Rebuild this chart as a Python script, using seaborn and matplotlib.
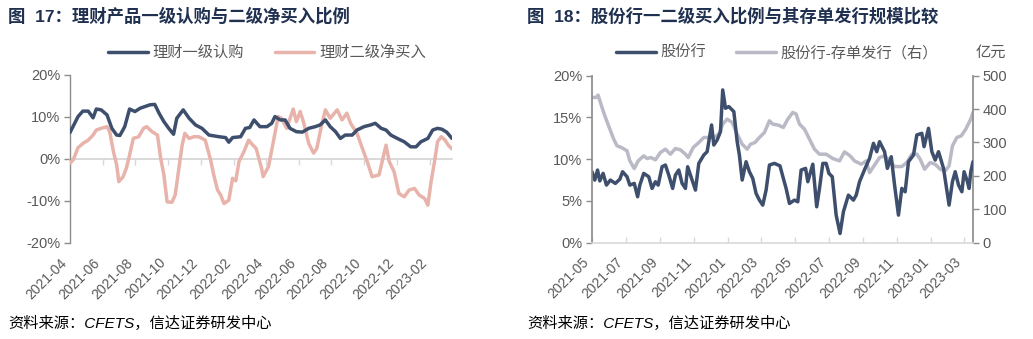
import matplotlib
matplotlib.use("Agg")
import matplotlib.pyplot as plt
import matplotlib.dates as mdates
from matplotlib.ticker import FuncFormatter, FixedLocator, NullFormatter
from matplotlib.lines import Line2D
import pandas as pd
import seaborn as sns

# ---------------- data: wealth products, primary subscription vs secondary net buying (%)
wm_primary_dates = [
    "2021-04-01", "2021-04-16", "2021-04-25", "2021-05-05", "2021-05-14", "2021-05-20", "2021-05-29",
    "2021-06-09", "2021-06-18", "2021-06-27", "2021-07-03", "2021-07-12", "2021-07-21", "2021-07-31",
    "2021-08-10", "2021-08-19", "2021-08-28", "2021-09-06", "2021-09-14", "2021-09-23", "2021-10-02",
    "2021-10-11", "2021-10-17", "2021-10-29", "2021-11-09", "2021-11-21", "2021-12-03", "2021-12-16",
    "2022-01-04", "2022-01-16", "2022-01-22", "2022-01-29", "2022-02-13", "2022-02-22", "2022-03-02",
    "2022-03-10", "2022-03-21", "2022-04-03", "2022-04-12", "2022-04-18", "2022-04-28", "2022-05-07",
    "2022-05-16", "2022-05-28", "2022-06-08", "2022-06-20", "2022-07-02", "2022-07-11", "2022-07-21",
    "2022-07-30", "2022-08-09", "2022-08-18", "2022-08-27", "2022-09-09", "2022-09-18", "2022-10-01",
    "2022-10-13", "2022-10-22", "2022-11-02", "2022-11-11", "2022-11-20", "2022-12-02", "2022-12-15",
    "2022-12-27", "2023-01-06", "2023-01-15", "2023-01-28", "2023-02-06", "2023-02-15", "2023-02-23",
    "2023-03-04", "2023-03-14",
]
wm_primary = [
    6.3, 10.1, 11.4, 11.4, 9.8, 11.9, 11.7,
    10.5, 7.3, 5.7, 5.6, 7.7, 11.9, 11.3,
    12.1, 12.5, 12.9, 13.0, 10.9, 8.9, 7.3,
    5.9, 9.7, 11.7, 9.7, 8.1, 7.3, 5.7,
    5.3, 5.1, 4.0, 5.1, 5.3, 7.3, 7.5,
    9.3, 7.7, 7.7, 8.5, 10.1, 9.3, 9.3,
    7.3, 6.5, 6.4, 7.3, 7.7, 8.1, 9.3,
    7.7, 6.5, 4.9, 5.7, 5.7, 6.9, 7.7,
    8.1, 8.5, 7.3, 6.9, 5.7, 4.9, 4.1,
    2.9, 2.9, 4.1, 4.9, 6.9, 7.3, 7.1,
    6.4, 4.9,
]

wm_secondary_dates = [
    "2021-04-01", "2021-04-07", "2021-04-16", "2021-04-25", "2021-05-05", "2021-05-14", "2021-05-20",
    "2021-05-29", "2021-06-09", "2021-06-14", "2021-06-21", "2021-06-27", "2021-07-01", "2021-07-09",
    "2021-07-15", "2021-07-21", "2021-07-28", "2021-08-07", "2021-08-16", "2021-08-22", "2021-09-01",
    "2021-09-11", "2021-09-17", "2021-09-23", "2021-09-29", "2021-10-08", "2021-10-14", "2021-10-21",
    "2021-10-27", "2021-11-01", "2021-11-09", "2021-11-18", "2021-11-27", "2021-12-09", "2021-12-19",
    "2021-12-25", "2022-01-01", "2022-01-07", "2022-01-13", "2022-01-22", "2022-01-29", "2022-02-04",
    "2022-02-10", "2022-02-19", "2022-02-28", "2022-03-05", "2022-03-14", "2022-03-24", "2022-03-27",
    "2022-04-06", "2022-04-15", "2022-04-24", "2022-04-30", "2022-05-10", "2022-05-22", "2022-05-28",
    "2022-06-04", "2022-06-10", "2022-06-20", "2022-06-29", "2022-07-05", "2022-07-14", "2022-07-21",
    "2022-07-30", "2022-08-12", "2022-08-21", "2022-08-30", "2022-09-06", "2022-09-18", "2022-09-28",
    "2022-10-07", "2022-10-16", "2022-10-29", "2022-11-11", "2022-11-17", "2022-11-26", "2022-12-05",
    "2022-12-15", "2022-12-24", "2023-01-03", "2023-01-12", "2023-01-22", "2023-01-28", "2023-02-03",
    "2023-02-10", "2023-02-15", "2023-02-22", "2023-03-01", "2023-03-07", "2023-03-14",
]
wm_secondary = [
    -1.0, -0.2, 2.7, 3.7, 4.5, 5.7, 6.9,
    7.3, 7.7, 6.5, 1.7, -1.4, -5.4, -4.2,
    -2.2, 0.9, 4.9, 5.3, 7.3, 7.7, 6.5,
    5.7, 0.2, -3.8, -10.2, -10.3, -8.6, -2.2,
    3.3, 6.1, 4.9, 5.3, 5.3, 4.5, -0.2,
    -3.8, -7.4, -8.6, -10.6, -9.8, -4.6, -5.2,
    -0.6, 1.7, 4.5, 3.7, 2.5, -2.2, -4.2,
    -1.8, 4.1, 10.1, 9.7, 7.3, 11.9, 8.9,
    11.3, 8.9, 3.7, 1.4, 2.5, 8.1, 11.7,
    9.7, 11.7, 9.3, 10.9, 8.5, 6.1, 2.5,
    -0.6, -4.2, -3.8, 3.3, -0.6, -3.0, -8.2,
    -9.0, -7.4, -7.0, -8.6, -9.4, -11.0, -5.4,
    -0.2, 4.1, 5.3, 4.5, 3.3, 2.4,
]

# ---------------- data: joint-stock banks, primary/secondary buying ratio (%) and NCD issuance (100m yuan)
jsb_ratio_dates = [
    "2021-05-01", "2021-05-06", "2021-05-11", "2021-05-15", "2021-05-21", "2021-05-27", "2021-06-03",
    "2021-06-12", "2021-06-20", "2021-06-25", "2021-07-03", "2021-07-08", "2021-07-16", "2021-07-22",
    "2021-07-26", "2021-08-02", "2021-08-11", "2021-08-17", "2021-08-23", "2021-08-28", "2021-09-04",
    "2021-09-10", "2021-09-16", "2021-09-23", "2021-09-28", "2021-10-04", "2021-10-10", "2021-10-16",
    "2021-10-20", "2021-10-26", "2021-11-03", "2021-11-09", "2021-11-18", "2021-11-24", "2021-12-02",
    "2021-12-06", "2021-12-12", "2021-12-18", "2021-12-22", "2021-12-27", "2022-01-02", "2022-01-11",
    "2022-01-17", "2022-01-21", "2022-01-26", "2022-02-02", "2022-02-08", "2022-02-14", "2022-02-20",
    "2022-02-26", "2022-03-04", "2022-03-10", "2022-03-16", "2022-03-25", "2022-04-04", "2022-04-10",
    "2022-04-15", "2022-04-21", "2022-04-30", "2022-05-06", "2022-05-12", "2022-05-20", "2022-05-24",
    "2022-06-02", "2022-06-09", "2022-06-14", "2022-06-20", "2022-06-26", "2022-07-01", "2022-07-07",
    "2022-07-14", "2022-07-21", "2022-07-27", "2022-08-05", "2022-08-14", "2022-08-19", "2022-08-25",
    "2022-09-04", "2022-09-12", "2022-09-19", "2022-09-25", "2022-09-30", "2022-10-09", "2022-10-14",
    "2022-10-21", "2022-10-27", "2022-11-03", "2022-11-09", "2022-11-15", "2022-11-21", "2022-11-30",
    "2022-12-06", "2022-12-15", "2022-12-19", "2022-12-27", "2023-01-02", "2023-01-08", "2023-01-14",
    "2023-01-23", "2023-02-02", "2023-02-08", "2023-02-13", "2023-02-19", "2023-02-25", "2023-03-01",
    "2023-03-07", "2023-03-10", "2023-03-13", "2023-03-17",
]
jsb_ratio = [
    8.5, 7.5, 8.7, 7.4, 8.3, 6.9, 7.5,
    7.1, 7.6, 8.5, 7.9, 6.9, 7.1, 5.5,
    6.9, 8.3, 7.9, 6.5, 7.3, 6.9, 9.1,
    9.3, 8.1, 6.5, 8.1, 8.7, 7.1, 6.5,
    9.1, 7.9, 6.3, 9.5, 10.5, 10.9, 14.1,
    11.7, 12.3, 13.3, 18.3, 16.1, 16.3, 15.7,
    12.1, 10.5, 7.5, 9.7, 8.5, 7.7, 5.9,
    5.1, 4.5, 6.3, 9.3, 9.5, 9.2, 7.7,
    6.5, 4.7, 5.1, 4.9, 8.7, 8.9, 7.3,
    9.4, 4.3, 6.5, 9.5, 9.5, 8.3, 7.9,
    3.3, 1.1, 3.7, 5.7, 5.1, 5.7, 7.3,
    8.9, 10.1, 11.9, 10.9, 12.1, 10.9, 8.9,
    10.3, 6.9, 3.3, 6.5, 6.1, 9.7, 10.5,
    12.9, 13.1, 11.5, 13.7, 10.9, 9.9, 10.9,
    8.9, 4.5, 7.3, 8.5, 6.9, 6.1, 8.5,
    7.3, 6.5, 8.5, 9.7,
]

jsb_ncd_dates = [
    "2021-05-01", "2021-05-09", "2021-05-12", "2021-05-18", "2021-05-24", "2021-06-01", "2021-06-09",
    "2021-06-15", "2021-06-23", "2021-07-03", "2021-07-08", "2021-07-16", "2021-07-23", "2021-08-02",
    "2021-08-08", "2021-08-15", "2021-08-23", "2021-09-01", "2021-09-10", "2021-09-19", "2021-09-28",
    "2021-10-07", "2021-10-16", "2021-10-21", "2021-10-30", "2021-11-09", "2021-11-18", "2021-11-27",
    "2021-12-06", "2021-12-15", "2021-12-22", "2021-12-30", "2022-01-08", "2022-01-17", "2022-01-26",
    "2022-02-04", "2022-02-10", "2022-02-18", "2022-02-26", "2022-03-07", "2022-03-16", "2022-03-22",
    "2022-04-01", "2022-04-10", "2022-04-18", "2022-04-27", "2022-05-03", "2022-05-09", "2022-05-18",
    "2022-05-27", "2022-06-05", "2022-06-14", "2022-06-26", "2022-07-08", "2022-07-20", "2022-07-29",
    "2022-08-08", "2022-08-16", "2022-08-28", "2022-09-06", "2022-09-12", "2022-09-22", "2022-09-30",
    "2022-10-09", "2022-10-19", "2022-10-27", "2022-11-09", "2022-11-18", "2022-11-27", "2022-12-06",
    "2022-12-12", "2022-12-20", "2022-12-30", "2023-01-08", "2023-01-17", "2023-01-26", "2023-02-02",
    "2023-02-08", "2023-02-16", "2023-02-24", "2023-03-04", "2023-03-13", "2023-03-17",
]
jsb_ncd = [
    435, 435, 442, 410, 380, 345, 310,
    290, 285, 275, 245, 222, 245, 260,
    252, 255, 248, 270, 280, 265, 282,
    278, 265, 255, 285, 300, 315, 315,
    315, 325, 355, 370, 360, 325, 295,
    280, 295, 300, 315, 330, 365, 355,
    352, 345, 370, 390, 385, 355, 340,
    310, 280, 265, 265, 252, 245, 272,
    260, 245, 235, 245, 210, 235, 255,
    260, 245, 228, 228, 240, 265, 265,
    250, 220, 240, 235, 220, 215, 230,
    290, 315, 320, 340, 370, 390,
]

left_ticks = ["2021-04", "2021-06", "2021-08", "2021-10", "2021-12", "2022-02",
              "2022-04", "2022-06", "2022-08", "2022-10", "2022-12", "2023-02"]
right_ticks = ["2021-05", "2021-07", "2021-09", "2021-11", "2022-01", "2022-03",
               "2022-05", "2022-07", "2022-09", "2022-11", "2023-01", "2023-03"]

# ---------------- style
NAVY = "#3E4F6D"
PINK = "#E8B3AB"
GREY_LINE = "#B9BAC6"
TEXT = "#595959"
SPINE = "#8C8C8C"
ZERO = "#D9D9D9"
TITLE = "#1F3050"
LW = 2.5

sns.set_theme(style="white")
plt.rcParams["font.family"] = ["Liberation Sans", "Noto Sans CJK SC"]
plt.rcParams["axes.unicode_minus"] = False

fig = plt.figure(figsize=(10.33, 3.39), dpi=100)

pct_fmt = FuncFormatter(lambda v, _: f"{v:.0f}%")


def month_locator(tick_labels):
    return FixedLocator([mdates.date2num(pd.Timestamp(t + "-01")) for t in tick_labels])


# ================= left panel
axL = fig.add_axes([70 / 1033, 1 - 243 / 339, 382 / 1033, 168 / 339])
df1 = pd.DataFrame({"date": pd.to_datetime(wm_primary_dates), "v": wm_primary})
df2 = pd.DataFrame({"date": pd.to_datetime(wm_secondary_dates), "v": wm_secondary})

# zero line with small in-facing date ticks (drawn first so the series sit on top)
axL.axhline(0, color=ZERO, linewidth=1.2, zorder=1)
sns.lineplot(data=df2, x="date", y="v", ax=axL, color=PINK, linewidth=LW, zorder=3)
sns.lineplot(data=df1, x="date", y="v", ax=axL, color=NAVY, linewidth=LW, zorder=4)
axL.set_xlim(pd.Timestamp("2021-04-01"), df2["date"].max())
axL.set_ylim(-20, 20)
axL.set_yticks([-20, -10, 0, 10, 20])
axL.yaxis.set_major_formatter(pct_fmt)
axL.set_xlabel("")
axL.set_ylabel("")
for s in ["top", "right", "bottom"]:
    axL.spines[s].set_visible(False)
axL.spines["left"].set_color(SPINE)
axL.spines["left"].set_linewidth(1.0)
axL.xaxis.set_major_locator(month_locator(left_ticks))
axL.xaxis.set_major_formatter(mdates.DateFormatter("%Y-%m"))
axL.tick_params(axis="y", direction="out", length=4, width=1, color=SPINE,
                labelsize=10.5, labelcolor=TEXT, pad=3, left=True)
axL.tick_params(axis="x", length=0, labelsize=10, labelcolor=TEXT, pad=9)
for lab in axL.get_xticklabels():
    lab.set_rotation(45)
    lab.set_ha("right")

zero_ax = axL.secondary_xaxis(0.5)
for sp in zero_ax.spines.values():
    sp.set_color(ZERO)
    sp.set_linewidth(1.2)
zero_ax.xaxis.set_major_locator(month_locator(left_ticks))
zero_ax.xaxis.set_major_formatter(NullFormatter())
zero_ax.tick_params(axis="x", which="both", direction="in", length=4, width=1, color=ZERO,
                    labelbottom=False, labeltop=False)
zero_ax.set_zorder(1)

# ================= right panel
axR = fig.add_axes([592 / 1033, 1 - 242.7 / 339, 381 / 1033, 167 / 339])
axR2 = axR.twinx()
df3 = pd.DataFrame({"date": pd.to_datetime(jsb_ratio_dates), "v": jsb_ratio})
df4 = pd.DataFrame({"date": pd.to_datetime(jsb_ncd_dates), "v": jsb_ncd})
sns.lineplot(data=df4, x="date", y="v", ax=axR2, color=GREY_LINE, linewidth=LW)
sns.lineplot(data=df3, x="date", y="v", ax=axR, color=NAVY, linewidth=LW)
axR.set_zorder(axR2.get_zorder() + 1)
axR.patch.set_visible(False)
xmax = max(df3["date"].max(), df4["date"].max())
axR.set_xlim(pd.Timestamp("2021-05-01"), xmax)
axR.set_ylim(0, 20)
axR.set_yticks([0, 5, 10, 15, 20])
axR.yaxis.set_major_formatter(pct_fmt)
axR2.set_ylim(0, 500)
axR2.set_yticks([0, 100, 200, 300, 400, 500])
for a in (axR, axR2):
    a.set_xlabel("")
    a.set_ylabel("")
    a.spines["top"].set_visible(False)
    a.spines["left"].set_color(SPINE)
    a.spines["right"].set_color(SPINE)
    a.spines["bottom"].set_color(ZERO)
    a.spines["bottom"].set_linewidth(1.2)
axR.spines["right"].set_visible(False)
axR2.spines["left"].set_visible(False)
axR2.spines["bottom"].set_visible(False)
axR.xaxis.set_major_locator(month_locator(right_ticks))
axR.xaxis.set_major_formatter(mdates.DateFormatter("%Y-%m"))
axR.tick_params(axis="y", direction="out", length=4, width=1, color=SPINE,
                labelsize=10.5, labelcolor=TEXT, pad=3, left=True)
axR2.tick_params(axis="y", direction="out", length=4, width=1, color=SPINE,
                 labelsize=10.5, labelcolor=TEXT, pad=3, right=True, left=False)
axR.tick_params(axis="x", direction="in", length=4, width=1, color=ZERO,
                labelsize=10, labelcolor=TEXT, pad=9, bottom=True)
for lab in axR.get_xticklabels():
    lab.set_rotation(45)
    lab.set_ha("right")

# ================= titles, legends, notes
fig.text(8 / 1033, 1 - 16 / 339, "图  17：理财产品一级认购与二级净买入比例", fontsize=12.5,
         fontweight="bold", color=TITLE, va="center", ha="left")
fig.text(527 / 1033, 1 - 16 / 339, "图  18：股份行一二级买入比例与其存单发行规模比较", fontsize=12.5,
         fontweight="bold", color=TITLE, va="center", ha="left")

leg_kw = dict(loc="center", frameon=False, ncol=2, fontsize=11, handlelength=2.6,
              handletextpad=0.3, columnspacing=2.0, labelcolor=TEXT)
fig.legend(handles=[Line2D([], [], color=NAVY, lw=LW), Line2D([], [], color=PINK, lw=LW)],
           labels=["理财一级认购", "理财二级净买入"],
           bbox_to_anchor=(267 / 1033, 1 - 53 / 339), **leg_kw)
fig.legend(handles=[Line2D([], [], color=NAVY, lw=LW), Line2D([], [], color=GREY_LINE, lw=LW)],
           labels=["股份行", "股份行-存单发行（右）"],
           bbox_to_anchor=(777 / 1033, 1 - 53 / 339), **leg_kw)
fig.text(991 / 1033, 1 - 53 / 339, "亿元", fontsize=11, color=TEXT, ha="center", va="center")

note = "资料来源：CFETS，信达证券研发中心"
fig.text(8 / 1033, 1 - 323 / 339, note, fontsize=11, style="italic", color="#000000",
         ha="left", va="center")
fig.text(527 / 1033, 1 - 323 / 339, note, fontsize=11, style="italic", color="#000000",
         ha="left", va="center")

fig.savefig("out.png", dpi=100)
